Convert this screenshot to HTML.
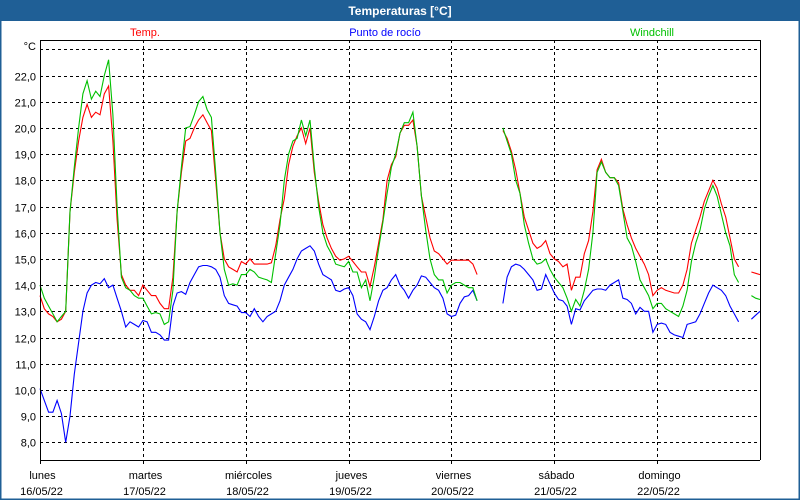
<!DOCTYPE html>
<html><head><meta charset="utf-8"><style>
body{margin:0;background:#fff;}
svg{display:block;font-family:"Liberation Sans",sans-serif;}
</style></head><body>
<svg id="chart" width="800" height="500" viewBox="0 0 800 500">
<rect x="0" y="0" width="800" height="500" fill="#fff"/>
<rect x="0" y="0" width="800" height="21" fill="#1f5f96"/>
<rect x="0.5" y="0.5" width="799" height="499" fill="none" stroke="#1f5f96" stroke-width="2"/>
<text x="400" y="15" text-anchor="middle" font-size="12" font-weight="bold" fill="#fff">Temperaturas [°C]</text>
<text x="145" y="36" text-anchor="middle" font-size="11" fill="#ff0000">Temp.</text>
<text x="385" y="36" text-anchor="middle" font-size="11" fill="#0000ff">Punto de rocío</text>
<text x="652" y="36" text-anchor="middle" font-size="11" fill="#00c000">Windchill</text>
<text x="36" y="50" text-anchor="end" font-size="11" fill="#000">°C</text>
<g id="grid"></g>
<g id="series"></g>
<g id="axes"></g>
</svg>
<script>
const yTicks=[8,9,10,11,12,13,14,15,16,17,18,19,20,21,22,23];
const dayNames=["lunes","martes","miércoles","jueves","viernes","sábado","domingo"];
const dayDates=["16/05/22","17/05/22","18/05/22","19/05/22","20/05/22","21/05/22","22/05/22"];
const N=null;
const temp=[13.6,13.1,12.9,12.8,12.6,12.7,13.0,16.8,18.3,19.5,20.4,20.9,20.4,20.6,20.5,21.3,21.6,19.5,16.5,14.4,14.0,13.8,13.8,13.6,
14.0,13.8,13.6,13.6,13.3,13.1,13.1,14.3,16.8,18.3,19.5,19.6,20.0,20.3,20.5,20.2,19.9,18.0,16.0,15.0,14.7,14.6,14.5,14.9,
14.8,15.0,14.8,14.8,14.8,14.8,14.85,15.5,16.5,17.3,18.6,19.3,19.7,20.0,19.4,20.0,18.3,17.2,16.3,15.8,15.4,15.1,14.95,15.0,
15.1,14.9,14.7,14.5,14.5,13.95,14.7,15.6,16.5,18.0,18.6,18.9,19.8,20.1,20.1,20.3,19.3,17.4,16.6,15.8,15.3,15.2,15.0,14.8,
14.95,14.95,14.95,14.95,14.95,14.8,14.4,N,N,N,N,N,19.9,19.6,19.1,18.4,17.5,16.6,16.1,15.6,15.4,15.5,15.7,15.2,
15.0,14.9,14.7,14.8,13.8,14.3,14.3,15.2,15.7,16.8,18.4,18.8,18.3,18.1,18.1,17.9,16.9,16.3,15.8,15.4,15.1,14.8,14.4,13.6,
13.8,13.9,13.8,13.75,13.7,13.7,14.0,14.6,15.6,16.1,16.6,17.2,17.6,18.0,17.7,17.1,16.6,15.8,15.0,14.7,N,N,14.5,14.45,14.4];
const windchill=[14.0,13.5,13.2,12.9,12.6,12.8,13.0,16.8,18.5,20.0,21.3,21.8,21.1,21.4,21.2,22.0,22.6,20.5,17.0,14.3,13.9,13.8,13.6,13.5,
13.5,13.2,12.9,12.95,12.9,12.5,12.6,13.8,16.8,18.5,20.0,20.05,20.5,21.0,21.2,20.7,20.4,18.3,16.0,14.6,14.0,14.05,14.0,14.4,
14.4,14.6,14.5,14.3,14.25,14.2,14.1,15.2,16.3,18.0,19.0,19.5,19.6,20.3,19.7,20.3,18.5,17.0,16.0,15.5,15.2,14.8,14.75,14.7,
14.9,14.5,14.5,13.9,14.2,13.4,14.3,15.4,16.4,17.5,18.5,19.0,19.8,20.2,20.2,20.6,19.3,17.4,16.1,15.0,14.4,14.2,14.2,13.7,
14.0,14.1,14.1,14.0,13.9,13.9,13.4,N,N,N,N,N,20.0,19.5,19.0,18.0,17.5,16.3,15.6,15.0,14.8,14.85,15.0,14.6,
14.3,14.1,13.9,13.5,13.0,13.45,13.2,13.8,14.6,16.0,18.3,18.7,18.3,18.1,18.1,17.8,16.8,15.8,15.5,14.9,14.2,13.9,13.6,13.1,
13.3,13.3,13.1,13.0,12.9,12.8,13.2,13.8,14.9,15.6,16.1,16.9,17.4,17.8,17.4,16.7,16.0,15.5,14.4,14.1,N,N,13.6,13.5,13.45];
const dewpoint=[10.05,9.6,9.15,9.15,9.6,9.1,8.0,9.0,10.6,11.8,13.0,13.7,14.0,14.1,14.05,14.25,13.9,14.0,13.5,13.0,12.4,12.6,12.5,12.4,
12.65,12.6,12.2,12.2,12.1,11.9,11.9,13.2,13.7,13.75,13.65,14.1,14.4,14.7,14.75,14.75,14.7,14.6,14.3,13.6,13.3,13.25,13.2,12.95,
12.95,12.8,13.1,12.8,12.6,12.8,12.9,13.0,13.4,14.0,14.3,14.6,15.0,15.3,15.4,15.5,15.3,14.8,14.4,14.3,14.2,13.8,13.75,13.85,
13.9,13.6,12.9,12.7,12.6,12.3,12.8,13.4,13.8,13.9,14.2,14.4,14.0,13.8,13.5,13.8,14.0,14.35,14.3,14.1,13.9,13.8,13.5,12.9,
12.8,12.85,13.3,13.55,13.6,13.8,13.4,N,N,N,N,N,13.3,14.3,14.7,14.8,14.75,14.6,14.4,14.2,13.8,13.85,14.4,14.05,
13.7,13.45,13.4,13.2,12.5,13.1,13.05,13.4,13.6,13.8,13.85,13.85,13.8,14.0,14.1,14.2,13.5,13.45,13.3,12.9,13.15,13.0,13.0,12.2,
12.5,12.55,12.5,12.2,12.1,12.05,12.0,12.5,12.55,12.6,12.9,13.3,13.7,14.0,13.9,13.8,13.6,13.2,12.9,12.6,N,N,12.7,12.85,13.0];

const X0=40,X1=760,Y8=442.3,PPD=26.2,TOP=40,BOT=460,HOURS=168;
const xs=h=>X0+h*(X1-X0)/HOURS;
const ys=v=>Y8-(v-8)*PPD;
const NS="http://www.w3.org/2000/svg";
function mk(tag,attrs,parent){const e=document.createElementNS(NS,tag);for(const k in attrs)e.setAttribute(k,attrs[k]);parent.appendChild(e);return e;}
const grid=document.getElementById('grid'),axes=document.getElementById('axes'),series=document.getElementById('series');

yTicks.forEach(v=>{
  const y=Math.round(ys(v))+0.5;
  const l=mk('line',{x1:X0,x2:X1,y1:y,y2:y,stroke:'#000','stroke-dasharray':'3,3','stroke-width':1},grid);
  
  
  if(v<23){
    const t=mk('text',{x:36,y:y+4,'text-anchor':'end','font-size':11,fill:'#000'},axes);
    t.textContent=v.toFixed(1).replace('.',',');
    
    
  }
});
dayNames.forEach((d,i)=>{
  const x=Math.round(xs(i*24))+0.5;
  if(i>0){
    const l=mk('line',{x1:x,x2:x,y1:TOP,y2:BOT,stroke:'#000','stroke-dasharray':'3,3','stroke-width':1},grid);
    
    
  }
  const tk=mk('line',{x1:x,x2:x,y1:BOT,y2:BOT+4,stroke:'#000'},axes);
  
  
  const t1=mk('text',{x:x+2,y:479,'text-anchor':'middle','font-size':11,fill:'#000'},axes);
  t1.textContent=d;
  
  
  const t2=mk('text',{x:x+1,y:495,'text-anchor':'middle','font-size':11,fill:'#000'},axes);
  t2.textContent=dayDates[i];
  
  
});
const frame=mk('path',{d:`M${X0+0.5},${TOP}V${BOT+0.5}H${X1}M${X0},${TOP+0.5}H${X1+0.5}V${BOT}`,stroke:'#000',fill:'none'},axes);



function drawSeries(arr,color,name){
  let segs=[],cur=[];
  arr.forEach((v,h)=>{if(v===null){if(cur.length)segs.push(cur);cur=[];}else cur.push(xs(h).toFixed(1)+','+ys(v).toFixed(1));});
  if(cur.length)segs.push(cur);
  segs.forEach(s=>{
    const p=mk('polyline',{points:s.join(' '),fill:'none',stroke:color,'stroke-width':1.1},series);
    
    
  });
}
drawSeries(dewpoint,'#0000ff','dewpoint-line');
drawSeries(temp,'#ff0000','temp-line');
drawSeries(windchill,'#00c000','windchill-line');
</script>
</body></html>
